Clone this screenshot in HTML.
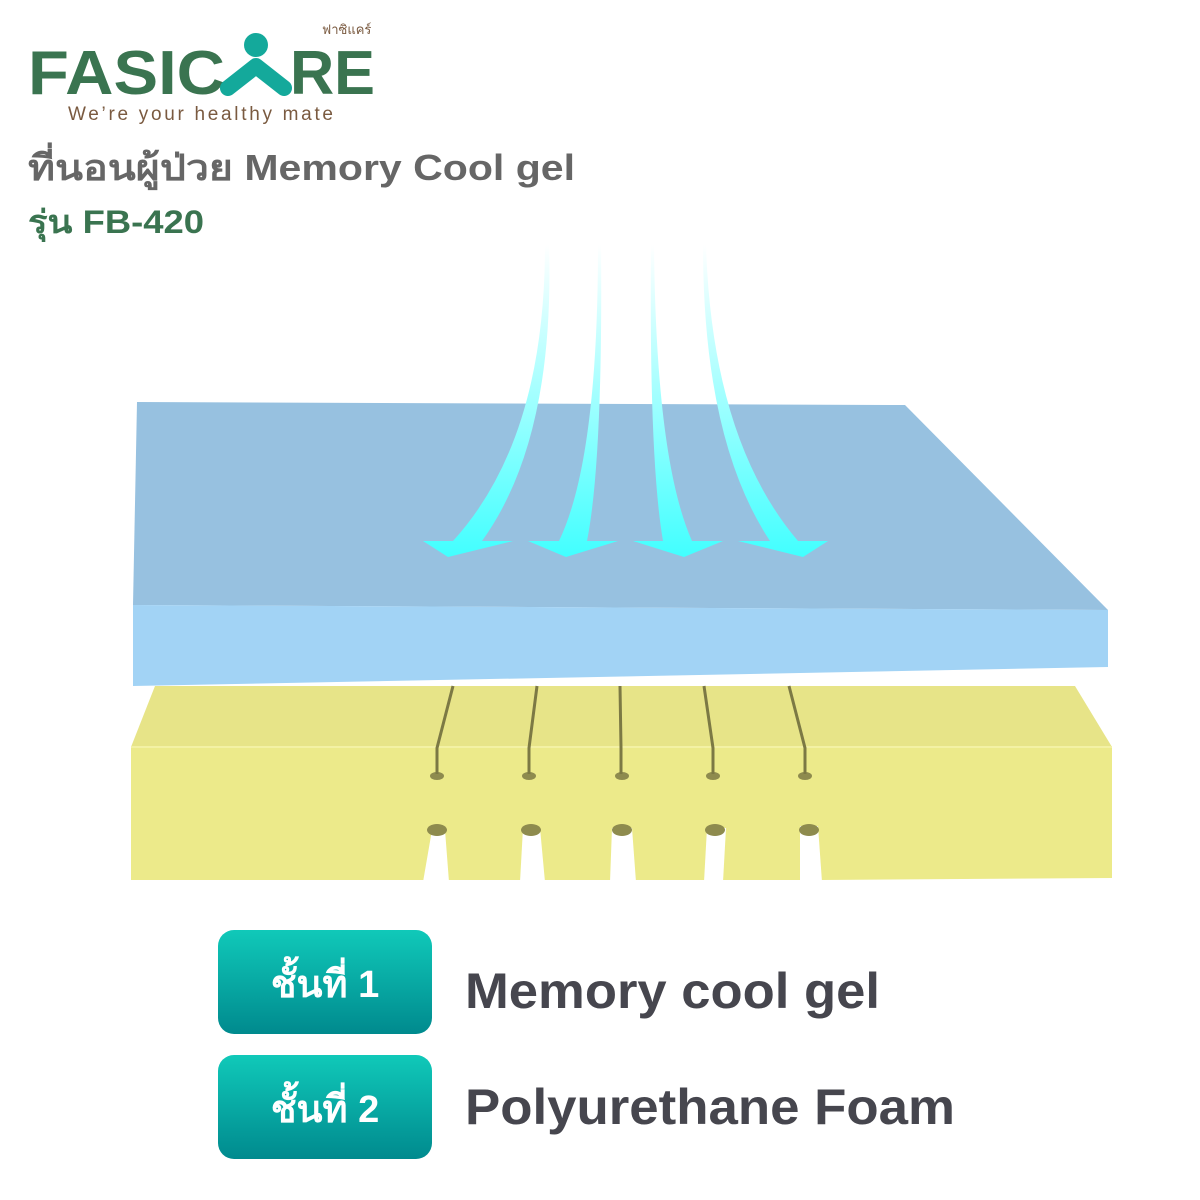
<!DOCTYPE html>
<html><head><meta charset="utf-8"><style>
body{margin:0;width:1200px;height:1200px;background:#fff;overflow:hidden;font-family:"Liberation Sans","Noto Sans CJK SC",sans-serif}
</style></head><body>
<svg width="1200" height="1200" viewBox="0 0 1200 1200" xmlns="http://www.w3.org/2000/svg" style="position:absolute;left:0;top:0">
<defs>
<linearGradient id="ar" x1="0" y1="245" x2="0" y2="560" gradientUnits="userSpaceOnUse">
<stop offset="0" stop-color="#ffffff"/><stop offset="0.45" stop-color="#a8ffff"/><stop offset="1" stop-color="#40ffff"/></linearGradient>
<linearGradient id="bt" x1="0" y1="0" x2="0" y2="1">
<stop offset="0" stop-color="#10c9b9"/><stop offset="1" stop-color="#008a8e"/></linearGradient>
</defs>
<!-- logo -->
<text x="28" y="94" font-family="Liberation Sans,sans-serif" font-weight="bold" font-size="62" fill="#3a7450" textLength="197" lengthAdjust="spacingAndGlyphs">FASIC</text>
<circle cx="256" cy="45" r="12" fill="#14a99b"/>
<path d="M228 88 L256 66 L284 88" stroke="#14a99b" stroke-width="16" fill="none" stroke-linecap="round" stroke-linejoin="round"/>
<text x="290" y="94" font-family="Liberation Sans,sans-serif" font-weight="bold" font-size="62" fill="#3a7450" textLength="85" lengthAdjust="spacingAndGlyphs">RE</text>
<text x="322" y="34" font-size="13" fill="#7a5a40" font-family="Liberation Sans,Noto Sans CJK SC,sans-serif">ฟาซิแคร์</text>
<text x="68" y="120" font-size="19" fill="#7a5a40" textLength="265" lengthAdjust="spacing">We’re your healthy mate</text>
<text x="28" y="180" font-size="36" font-weight="bold" fill="#666" textLength="547" lengthAdjust="spacingAndGlyphs">ที่นอนผู้ป่วย Memory Cool gel</text>
<text x="28" y="233" font-size="32" font-weight="bold" fill="#3a7450" textLength="176" lengthAdjust="spacingAndGlyphs">รุ่น FB-420</text>

<!-- yellow foam -->
<polygon points="155,686 1075,686 1112,747 131,747" fill="#e7e488"/>
<polygon points="131,747 1112,747 1112,878 820,880 131,880" fill="#ecea8a"/>
<line x1="131" y1="747" x2="1112" y2="747" stroke="#f3f1a4" stroke-width="2"/>
<g fill="#ffffff">
<polygon points="432,830 445,830 449,882 423,882"/>
<polygon points="523,828 540,828 545,882 520,882"/>
<polygon points="612,828 632,828 636,882 610,882"/>
<polygon points="707,828 726,828 723,882 704,882"/>
<polygon points="800,826 818,826 822,882 800,882"/>
</g>
<g fill="#8e8b4e">
<ellipse cx="437" cy="776" rx="7" ry="4"/><ellipse cx="529" cy="776" rx="7" ry="4"/>
<ellipse cx="622" cy="776" rx="7" ry="4"/><ellipse cx="713" cy="776" rx="7" ry="4"/>
<ellipse cx="805" cy="776" rx="7" ry="4"/>
<ellipse cx="437" cy="830" rx="10" ry="6"/><ellipse cx="531" cy="830" rx="10" ry="6"/>
<ellipse cx="622" cy="830" rx="10" ry="6"/><ellipse cx="715" cy="830" rx="10" ry="6"/>
<ellipse cx="809" cy="830" rx="10" ry="6"/>
</g>
<g stroke="#7c7944" stroke-width="3" fill="none">
<path d="M453,686 L437,748 L437,774"/>
<path d="M537,686 L529,748 L529,774"/>
<path d="M620,686 L621,748 L621,774"/>
<path d="M704,686 L713,748 L713,774"/>
<path d="M789,686 L805,748 L805,774"/>
</g>
<!-- blue layer -->
<polygon points="137,402 905,405 1108,610 133,605" fill="#97c1e0"/>
<polygon points="133,605 1108,610 1108,667 133,686" fill="#a2d3f5"/>
<!-- arrows -->
<g fill="url(#ar)">
<path d="M545,245 Q545,440 453,541 L423,541 L448,557 L513,541 L482,541 Q555,440 549,245 Z"/>
<path d="M598,245 Q598,460 559,541 L528,541 L566,557 L618,541 L587,541 Q603,460 601,245 Z"/>
<path d="M651,245 Q649,460 663,541 L633,541 L684,557 L723,541 L692,541 Q656,460 654,245 Z"/>
<path d="M703,245 Q703,440 770,541 L738,541 L803,557 L828,541 L798,541 Q712,440 706,245 Z"/>
</g>
<!-- buttons -->
<rect x="218" y="930" width="214" height="104" rx="16" fill="url(#bt)"/>
<rect x="218" y="1055" width="214" height="104" rx="16" fill="url(#bt)"/>
<text x="325" y="997" text-anchor="middle" font-size="38" font-weight="bold" fill="#fff">ชั้นที่ 1</text>
<text x="325" y="1122" text-anchor="middle" font-size="38" font-weight="bold" fill="#fff">ชั้นที่ 2</text>
<text x="465" y="1008" font-size="50" font-weight="bold" fill="#46464e" textLength="415" lengthAdjust="spacingAndGlyphs">Memory cool gel</text>
<text x="465" y="1124" font-size="50" font-weight="bold" fill="#46464e" textLength="490" lengthAdjust="spacingAndGlyphs">Polyurethane Foam</text>
</svg>
</body></html>
